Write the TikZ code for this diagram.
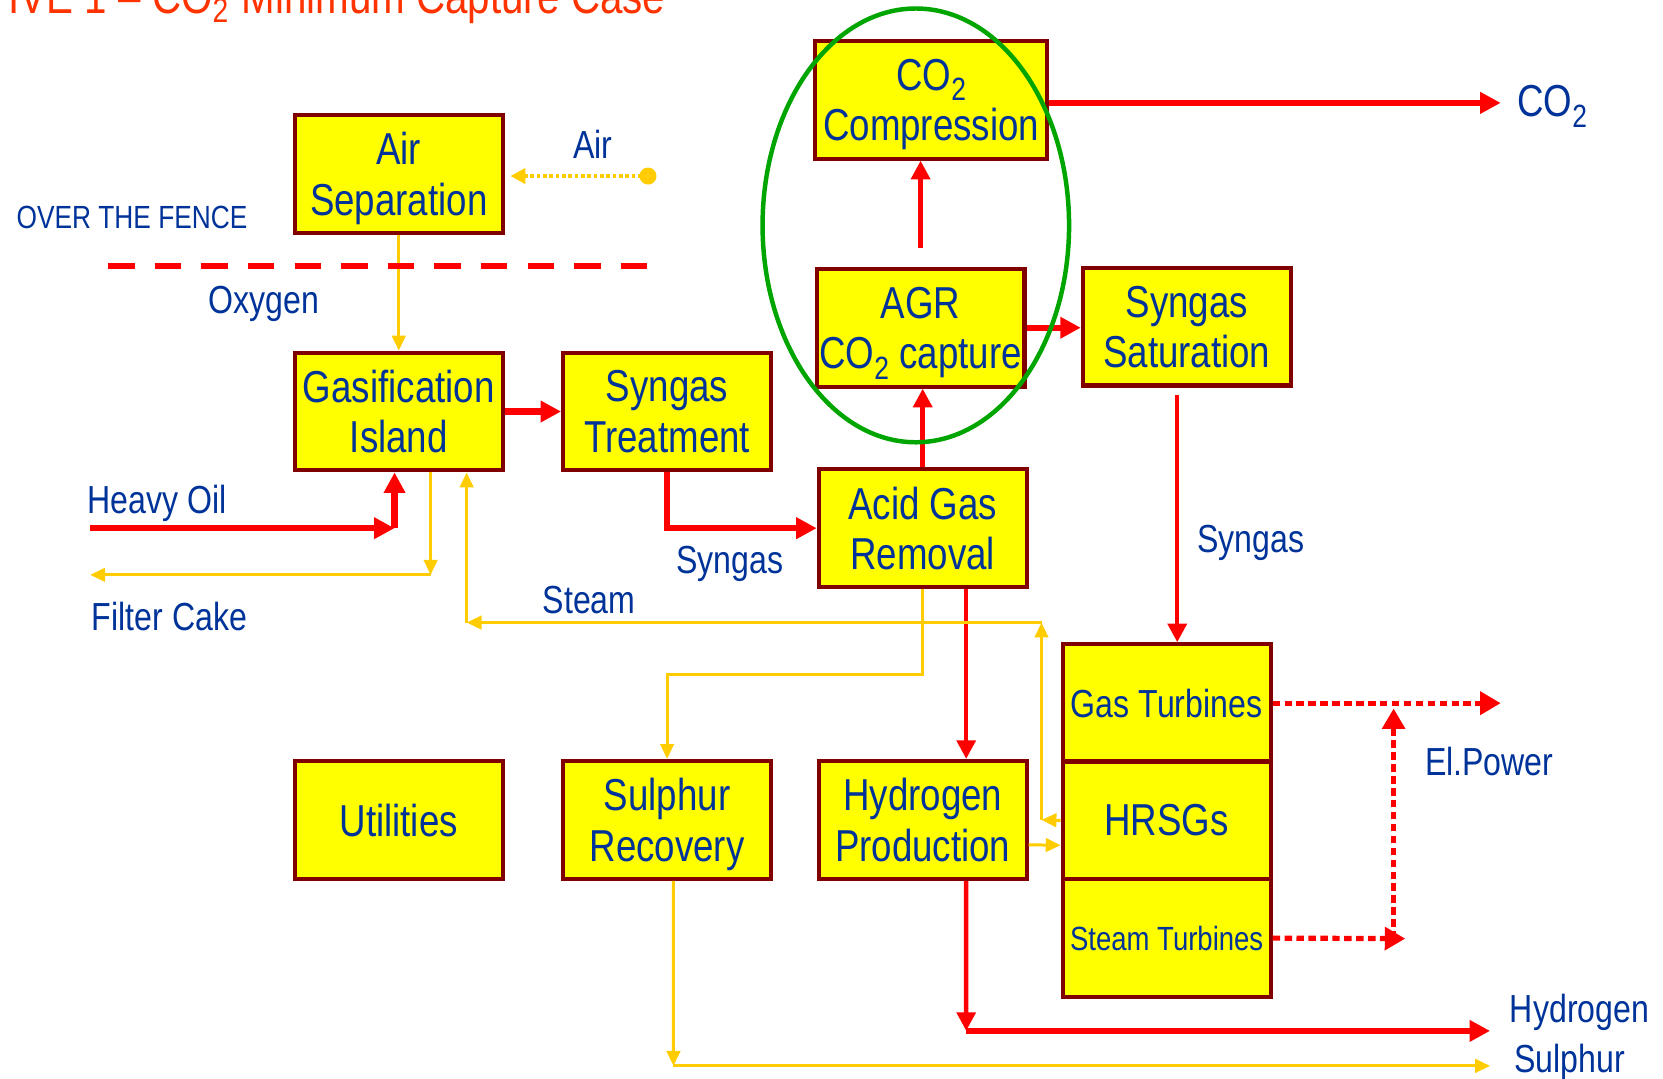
\documentclass[tikz,border=0pt]{standalone}
\usepackage{fontspec}
\usepackage{graphicx}
\setmainfont{Liberation Sans}[FakeStretch=0.82]
\usetikzlibrary{arrows.meta}

\definecolor{boxred}{RGB}{128,0,0}
\definecolor{boxyellow}{RGB}{255,255,0}
\definecolor{textblue}{RGB}{0,51,153}
\definecolor{flowred}{RGB}{255,0,0}
\definecolor{utilyellow}{RGB}{255,204,0}
\definecolor{ringgreen}{RGB}{0,165,0}
\definecolor{titlered}{RGB}{255,51,0}

\newcommand{\unitfont}{\fontsize{12}{13.5}\selectfont}
\newcommand{\labelfont}{\fontsize{10.5}{12}\selectfont}
\newcommand{\smallfont}{\fontsize{9}{11}\selectfont}
\newcommand{\fencefont}{\fontsize{8.6}{10}\selectfont}
\newcommand{\titlefont}{\fontsize{13.2}{15}\selectfont}
\newcommand{\subtwo}{\raisebox{-0.45ex}{\scalebox{0.72}{2}}}

\tikzset{
  unit/.style={draw=boxred, fill=boxyellow, line width=1.1pt, inner sep=0pt,
    minimum width=19.6mm, minimum height=11.1mm, align=center, text depth=0pt,
    text=textblue, font=\unitfont},
  flowlabel/.style={anchor=base west, inner sep=0pt, text=textblue, font=\labelfont},
  mainflow/.style={draw=flowred, line width=1.7pt, -{Triangle[length=5.5pt,width=5.5pt]}},
  sideflow/.style={draw=flowred, line width=1.2pt, -{Triangle[length=5pt,width=5pt]}},
  utilflow/.style={draw=utilyellow, line width=0.8pt, -{Triangle[length=4pt,width=3.6pt]}},
  airflow/.style={draw=utilyellow, line width=1pt, dash pattern=on 1pt off 0.7pt,
    -{Triangle[length=4pt,width=4pt]}},
  powerflow/.style={draw=flowred, line width=1.4pt, dash pattern=on 2pt off 1.2pt,
    -{Triangle[length=5.5pt,width=6pt]}},
  fence/.style={draw=flowred, line width=1.5pt, dash pattern=on 7.1pt off 5.4pt},
  ring/.style={draw=ringgreen, line width=1.2pt}
}

\begin{document}
\begin{tikzpicture}[x=0.1mm,y=-0.1mm]
  \useasboundingbox (0,0) rectangle (1568,1017);

  % title, cut by the top edge
  \node[anchor=base east, inner sep=0pt, text=titlered, font=\titlefont] (title) at (628,13)
    {TIVE 1 -- CO\textsubscript{2} Minimum Capture Case};

  % process units
  \node[unit] (airsep) at (376,164) {Air\\Separation};
  \node[unit] (gasif) at (376,388) {Gasification\\Island};
  \node[unit] (syntreat) at (629,388) {Syngas\\Treatment};
  \node[unit, minimum width=21.9mm] (co2comp) at (878,94) {CO\subtwo\\Compression};
  \node[unit] (agr) at (868,309) {AGR\\CO\subtwo{} capture};
  \node[unit] (synsat) at (1119,308) {Syngas\\Saturation};
  \node[unit] (acidgas) at (870,498) {Acid Gas\\Removal};
  \node[unit] (utilities) at (376,773) {Utilities};
  \node[unit] (sulrec) at (629,773) {Sulphur\\Recovery};
  \node[unit] (h2prod) at (870,773) {Hydrogen\\Production};
  \node[unit, font=\labelfont] (gasturb) at (1100,663) {Gas Turbines};
  \node[unit] (hrsg) at (1100,773.5) {HRSGs};
  \node[unit, font=\smallfont] (stturb) at (1100,884.5) {Steam Turbines};

  % stream labels
  \node[flowlabel] (airlbl) at (540,149) {Air};
  \node[flowlabel, font=\fencefont] (fencelbl) at (15,215) {OVER THE FENCE};
  \node[flowlabel] (oxylbl) at (196,296) {Oxygen};
  \node[flowlabel] (oillbl) at (82,484) {Heavy Oil};
  \node[flowlabel] (cakelbl) at (86,594) {Filter Cake};
  \node[flowlabel] (steamlbl) at (511,578) {Steam};
  \node[flowlabel] (synlbl) at (637,541) {Syngas};
  \node[flowlabel] (synlblb) at (1128,521) {Syngas};
  \node[flowlabel, font=\unitfont] (co2lbl) at (1430,110) {CO\subtwo};
  \node[flowlabel] (powerlbl) at (1343,731) {El.Power};
  \node[flowlabel] (h2lbl) at (1423,964) {Hydrogen};
  \node[flowlabel] (sullbl) at (1427,1011) {Sulphur};

  % bends and free ends
  \coordinate (airsrc) at (611,166);
  \coordinate (fenceL) at (102,251);
  \coordinate (fenceR) at (611,251);
  \coordinate (co2out) at (1415,97);
  \coordinate (oilin) at (85,498);
  \coordinate (oiljoin) at (372,498);
  \coordinate (caketurn) at (406,542);
  \coordinate (cakeout) at (85,542);
  \coordinate (steamA) at (982,773);
  \coordinate (steamB) at (982,587);
  \coordinate (steamC) at (440,587);
  \coordinate (sulbend) at (870,636);
  \coordinate (sulturn) at (635,1005);
  \coordinate (sulout) at (1405,1005);
  \coordinate (h2turn) at (911,972);
  \coordinate (h2out) at (1405,972);
  \coordinate (pwrout) at (1415,663);
  \coordinate (stend) at (1325,885);
  \coordinate (pwrlow) at (1314,885);
  \coordinate (pwrhigh) at (1314,668);

  % gas route
  \draw[mainflow] (gasif.east) -- (syntreat.west);
  \draw[mainflow] (syntreat.south) |- (acidgas.west);
  \draw[sideflow] (acidgas.north) -- (acidgas.north |- agr.south);
  \draw[sideflow, shorten <=5pt] (agr.north) -- (agr.north |- co2comp.south);
  \draw[mainflow] (co2comp.east |- co2out) -- (co2out);
  \draw[mainflow] (agr.east) -- (agr.east -| synsat.west);
  \draw[sideflow, shorten <=2pt] ([xshift=-0.9mm]synsat.south) -- ([xshift=-0.9mm]synsat.south |- gasturb.north);
  \draw[sideflow] ([xshift=4.1mm]acidgas.south) -- ([xshift=4.1mm]h2prod.north);
  \draw[sideflow] ([xshift=4.1mm]h2prod.south) -- (h2turn);
  \draw[mainflow] (h2turn) -- (h2out);

  % feed and residue
  \draw[mainflow] (oilin) -- (oiljoin);
  \draw[mainflow] (oiljoin) -- (oiljoin |- gasif.south);
  \draw[utilflow] (gasif.south -| caketurn) -- (caketurn);
  \draw[utilflow] (caketurn) -- (cakeout);

  % air and oxygen
  \fill[utilyellow] (airsrc) circle (0.8mm);
  \draw[airflow, shorten >=1.5pt] (airsrc) -- (airsep.east |- airsrc);
  \draw[utilflow] (airsep) -- (gasif);
  \draw[fence] (fenceL) -- (fenceR);

  % steam
  \draw[utilflow] (hrsg.west) -- (steamA);
  \draw[utilflow] (steamA) -- (steamB);
  \draw[utilflow] (steamB) -- (steamC);
  \draw[utilflow] (steamC) -- (steamC |- gasif.south);
  \draw[utilflow] ([yshift=-2.35mm]h2prod.east) -- ([yshift=-2.35mm]hrsg.west);

  % sulphur
  \draw[utilflow] (acidgas.south) -- (sulbend) -| (sulrec.north);
  \draw[utilflow] ([xshift=0.6mm]sulrec.south) -- (sulturn);
  \draw[utilflow] (sulturn) -- (sulout);

  % electric power
  \draw[powerflow] (gasturb.east) -- (pwrout);
  \draw[powerflow] (stturb.east) -- (stend);
  \draw[powerflow] (pwrlow) -- (pwrhigh);

  % capture ring
  \draw[ring] (863.5,212.5) ellipse [x radius=144.5, y radius=204.5];
\end{tikzpicture}
\end{document}
